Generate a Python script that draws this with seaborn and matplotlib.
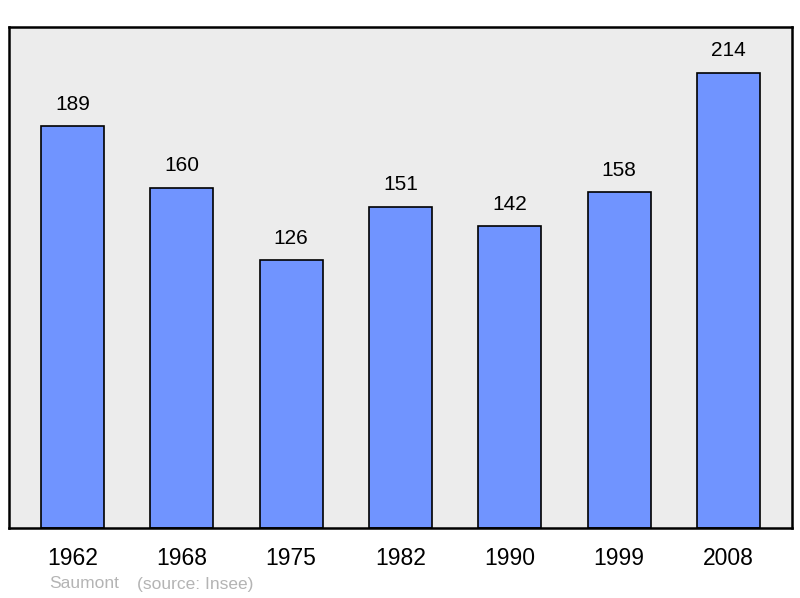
import matplotlib
matplotlib.use('Agg')
import matplotlib.pyplot as plt
import seaborn as sns
import pandas as pd

years = ['1962', '1968', '1975', '1982', '1990', '1999', '2008']
population = [189, 160, 126, 151, 142, 158, 214]

df = pd.DataFrame({'Année': years, 'Population': population})

sns.set_style('white')
plt.rcParams['font.family'] = ['Liberation Sans', 'DejaVu Sans']

fig = plt.figure(figsize=(8, 5.98), dpi=100)
ax = fig.add_axes([9 / 800, 1 - 528 / 598, 783 / 800, 501 / 598])
ax.set_facecolor('#ececec')

sns.barplot(data=df, x='Année', y='Population', color='#7094ff',
            saturation=1, width=0.577, edgecolor='black', linewidth=1.2, ax=ax)

# valeurs au-dessus des barres
for i, v in enumerate(population):
    ax.annotate(str(v), (i, v), xytext=(0, 9), textcoords='offset points',
                ha='center', va='bottom', fontsize=15, color='black')

ax.set_xlim(-0.58, 6.58)
ax.set_ylim(0, 235.6)
ax.set_yticks([])
ax.set_xlabel('')
ax.set_ylabel('')
ax.tick_params(axis='x', length=0, pad=14, labelsize=16.5, labelcolor='black')
for s in ax.spines.values():
    s.set_linewidth(1.8)
    s.set_color('black')

fig.text(49 / 800, 1 - 584 / 598, 'Saumont', color='#b4b4b4', fontsize=12.5, va='center')
fig.text(137 / 800, 1 - 584 / 598, '(source: Insee)', color='#b4b4b4', fontsize=12.5, va='center')

fig.savefig('out.png', dpi=100)
